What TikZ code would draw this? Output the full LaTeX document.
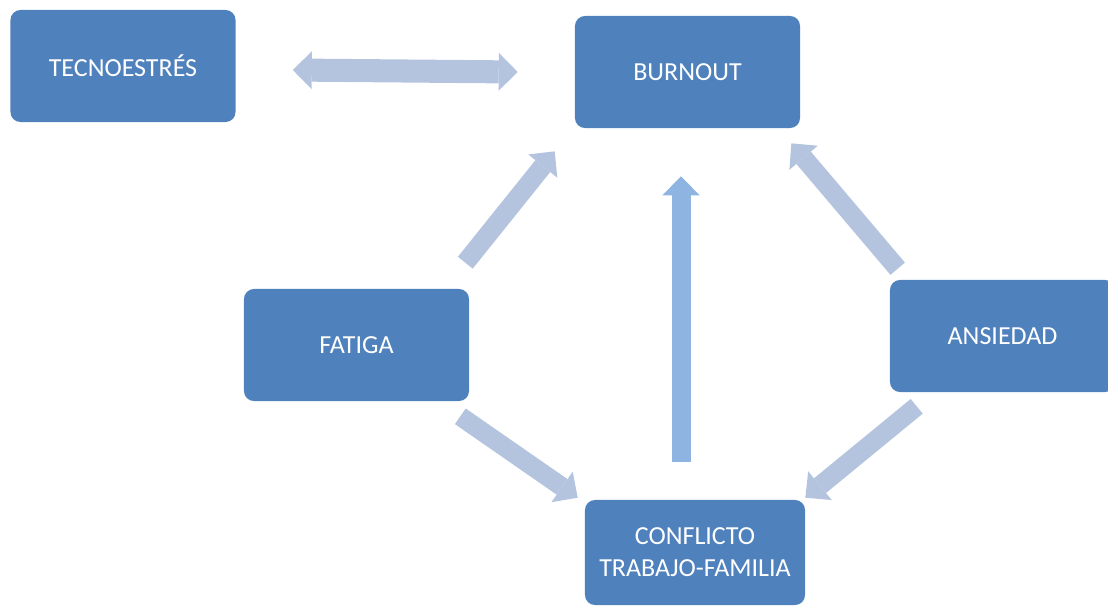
\documentclass[tikz,border=0pt]{standalone}
\usepackage{fontspec}
\setmainfont{Carlito}
\usepackage{tikz}
\usetikzlibrary{arrows.meta,positioning,calc}

\definecolor{boxblue}{HTML}{4F81BD}
\definecolor{arrowgray}{HTML}{B4C4DF}
\definecolor{arrowblue}{HTML}{8EB4E2}

\begin{document}
\begin{tikzpicture}[
  x=0.025cm, y=-0.025cm,
  factor/.style={rectangle, rounded corners=0.25cm, fill=boxblue, text=white, minimum width=5.625cm, minimum height=2.8cm, align=center, font=\fontsize{18.5}{22.8}\selectfont},
  arrow/.style={line width=13.5pt, arrowgray, -{Triangle[length=13.5pt, width=26.5pt, line width=0pt]}},
  twoway/.style={line width=16.4pt, arrowgray, {Triangle[length=13.5pt, width=27pt, line width=0pt]}-{Triangle[length=13.5pt, width=27pt, line width=0pt]}},
  uparrow/.style={arrow, arrowblue}
]

\useasboundingbox (0,0) rectangle (1108,606);

\node[factor] (tecno) at (123,66) {TECNOESTRÉS};
\node[factor] (burnout) at (687.5,72) {BURNOUT};
\node[factor] (fatiga) at (356.5,345) {FATIGA};
\node[factor] (ansiedad) at (1002.5,336) {ANSIEDAD};
\node[factor, minimum width=5.5cm, minimum height=2.625cm] (conflicto) at (695,552.5) {CONFLICTO\\TRABAJO-FAMILIA};

\draw[twoway] ($(tecno.east)+(57,4)$) -- ($(burnout.west)+(-57,0)$);
\draw[arrow] ($(fatiga.north east)+(-4,-26)$) -- ($(burnout.south west)+(-20,23)$);
\draw[arrow] ($(ansiedad.north west)+(8,-11)$) -- ($(burnout.south east)+(-9,15)$);
\draw[uparrow] ($(conflicto.north)+(-14,-38)$) -- ($(burnout.south)+(-6.5,48)$);
\draw[arrow] ($(fatiga.south east)+(-9,15)$) -- ($(conflicto.north west)+(-7,-2)$);
\draw[arrow] ($(ansiedad.south west)+(27,14)$) -- ($(conflicto.north east)+(0,-2)$);

\end{tikzpicture}
\end{document}
